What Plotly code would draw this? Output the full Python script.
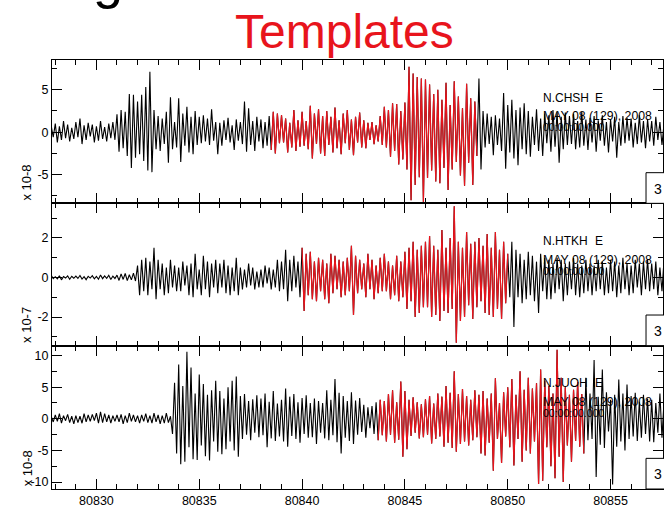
import plotly.graph_objects as go
from plotly.subplots import make_subplots

# ---------------- data ----------------
t0 = 80827.0          # start time of the traces (s)
dt = 0.1              # sample spacing (s)

# N.CHSH E  (units of 1e-8)
chsh_e = [
    0.6,-0.8,0.9,-0.5,1.1,-0.9,0.4,-1.0,0.8,-0.6,
    1.0,-1.2,0.7,-0.9,1.3,-0.7,0.9,-1.1,0.5,-0.8,
    1.2,-0.6,1.6,-1.4,0.8,-0.9,1.1,-0.5,0.9,-1.2,
    0.7,-1.0,1.3,-0.8,0.6,-1.1,1.0,-0.7,1.2,-0.9,
    2.1,-2.3,2.6,-1.9,2.4,-2.8,4.5,-4.2,4.4,-3.0,
    3.6,-2.6,4.4,-3.4,5.3,-4.5,7.1,-4.7,2.6,-2.0,
    1.9,-2.2,1.6,-1.4,2.4,-3.6,4.1,-2.0,1.2,-1.8,
    4.0,-3.5,2.2,-1.6,3.0,-2.4,1.8,-2.6,2.5,-1.5,
    1.8,-1.3,2.0,-1.1,1.6,-1.5,2.7,-1.0,1.2,-2.6,
    1.1,-1.6,1.4,-0.9,1.7,-1.2,0.8,-2.1,1.5,-1.0,
    1.2,-1.4,3.6,-2.3,2.8,-1.5,1.3,-2.2,1.8,-1.1,
    1.5,-1.9,1.2,-1.6,1.9,-2.1,2.4,-2.5,2.2,-1.3,
    2.0,-1.2,1.6,-2.4,1.1,-1.8,2.6,-2.2,1.4,-1.7,
    2.4,-1.6,1.3,-2.0,3.1,-3.1,2.2,-1.4,2.7,-2.5,
    1.9,-2.8,2.5,-1.5,1.8,-2.4,2.9,-1.9,1.4,-2.6,
    2.2,-1.3,2.6,-2.1,1.5,-2.7,1.8,-1.2,2.3,-1.8,
    1.4,-1.9,1.1,-0.9,1.2,-1.4,0.8,-1.1,1.9,-1.5,
    3.0,-1.8,2.6,-2.9,3.4,-2.2,3.3,-3.8,2.5,-3.2,
    3.5,-4.4,7.7,-8.0,6.9,-6.2,6.5,-5.3,6.3,-8.2,
    6.2,-5.4,5.6,-4.5,4.5,-5.8,5.0,-6.0,3.8,-4.2,
    5.8,-6.8,3.2,-4.4,6.0,-3.5,4.2,-5.1,2.8,-6.3,
    5.7,-3.6,4.0,-6.2,3.6,-2.8,6.3,-4.4,2.5,-1.8,
    2.2,-1.4,1.8,-2.7,2.0,-1.5,1.6,-2.2,4.6,-4.3,
    3.2,-2.4,3.8,-3.1,2.6,-3.9,2.9,-2.0,3.4,-2.6,
    2.5,-2.9,1.8,-1.5,2.7,-2.2,1.6,-2.8,2.2,-1.3,
    2.0,-2.3,2.6,-1.7,2.4,-3.6,1.8,-2.0,2.3,-1.5,
    1.9,-1.4,2.2,-2.0,1.3,-1.8,2.4,-1.6,1.5,-2.1,
    1.7,-1.2,1.9,-2.3,1.4,-1.0,2.0,-1.6,1.2,-2.4,
    1.5,-1.1,1.8,-3.0,1.2,-1.6,1.9,-1.3,1.7,-1.0,
    1.6,-1.8,1.1,-1.4,2.0,-1.2,1.3,-1.9,1.5,-1.1,
    1.3,-1.6,1.8,-0.9,1.2,-1.5,1.0,-1.3,1.4,-1.0,
]

# N.HTKH E  (units of 1e-7)
htkh_e = [
    0.05,-0.08,0.10,-0.04,0.06,-0.10,0.08,-0.05,0.12,-0.06,
    0.04,-0.07,0.09,-0.12,0.05,-0.03,0.08,-0.09,0.06,-0.04,
    0.07,-0.05,0.10,-0.08,0.04,-0.11,0.06,-0.03,0.09,-0.07,
    0.05,-0.09,0.12,-0.06,0.08,-0.04,0.11,-0.10,0.07,-0.05,
    0.12,-0.15,0.18,-0.10,0.20,-0.16,0.14,-0.12,0.22,-0.18,
    0.6,-0.9,0.9,-0.7,1.0,-0.9,0.8,-0.6,1.5,-1.1,
    0.9,-0.6,0.7,-0.9,0.5,-0.8,0.9,-0.5,0.6,-0.7,
    0.5,-0.7,0.8,-0.4,0.6,-0.9,0.7,-1.0,1.2,-0.6,
    0.4,-0.9,1.1,-0.6,0.8,-1.0,0.7,-0.5,0.9,-0.8,
    0.7,-0.5,0.9,-0.8,0.6,-0.9,0.5,-0.7,1.0,-0.9,
    0.5,-0.6,0.4,-0.5,0.7,-0.4,0.5,-0.6,0.3,-0.5,
    0.4,-0.5,0.6,-0.3,0.5,-0.6,0.4,-0.5,0.9,-0.7,
    0.8,-0.6,1.4,-1.2,0.9,-0.7,1.1,-0.5,0.8,-1.0,
    1.5,-1.7,1.2,-0.9,1.3,-1.1,0.8,-1.2,1.0,-0.7,
    0.9,-1.1,0.7,-1.3,1.2,-0.8,1.1,-0.6,0.9,-1.0,
    0.8,-0.9,1.0,-0.7,1.6,-1.9,1.1,-0.8,0.9,-0.6,
    0.7,-1.0,1.2,-0.6,0.9,-1.1,0.6,-0.8,1.0,-0.7,
    1.2,-0.7,0.8,-1.1,0.6,-0.9,1.1,-1.2,0.8,-1.0,
    1.3,-1.6,1.5,-1.2,1.8,-2.0,1.4,-1.8,1.6,-1.5,
    1.8,-1.5,2.1,-2.0,1.6,-1.9,1.4,-2.2,2.4,-1.7,
    1.5,-1.8,2.0,-1.6,3.6,-3.3,1.8,-2.2,1.5,-2.0,
    2.3,-1.4,1.7,-2.1,1.8,-1.5,2.0,-1.2,1.6,-1.8,
    2.2,-1.9,1.5,-2.0,2.3,-1.6,1.4,-2.1,1.8,-1.3,
    1.2,-1.0,1.8,-2.5,1.4,-1.0,1.2,-1.3,0.9,-1.1,
    1.3,-0.9,1.1,-1.2,0.8,-1.8,1.2,-0.7,1.0,-1.1,
    0.9,-1.1,0.7,-0.8,1.0,-0.6,0.9,-1.2,0.7,-0.9,
    0.8,-0.6,1.0,-0.9,0.7,-1.0,0.6,-0.8,0.9,-0.7,
    0.7,-0.9,0.6,-0.7,0.9,-0.6,0.8,-0.9,0.5,-0.8,
    0.9,-0.7,0.8,-1.0,0.6,-0.8,1.0,-0.6,0.7,-0.9,
    0.6,-0.8,0.9,-0.5,0.7,-0.9,0.8,-0.6,0.9,-0.7,
    0.7,-0.6,0.8,-0.9,0.5,-0.7,0.9,-0.8,0.6,-0.5,
]

# N.JUOH E  (units of 1e-8)
juoh_e = [
    0.3,-0.5,0.6,-0.4,0.7,-0.3,0.5,-0.6,0.4,-0.5,
    0.6,-0.4,0.8,-0.7,0.5,-0.3,0.7,-0.6,0.4,-0.8,
    0.5,-0.6,0.4,-0.7,0.8,-0.5,0.6,-0.4,0.7,-0.3,
    0.9,-0.7,1.1,-0.6,0.8,-0.5,0.6,-0.7,0.5,-0.4,
    0.6,-0.5,0.7,-0.8,0.5,-0.6,0.9,-0.4,0.6,-0.5,
    0.5,-0.7,0.6,-0.4,0.8,-0.6,0.5,-0.7,0.9,-0.5,
    0.6,-0.8,0.5,-0.7,0.9,-0.6,0.4,-2.4,5.7,-5.5,
    8.6,-7.2,5.2,-6.8,10.6,-4.5,8.1,-6.4,4.0,-6.5,
    7.0,-4.2,5.5,-5.9,3.8,-6.6,4.5,-3.6,6.0,-5.2,
    4.4,-5.6,3.2,-4.8,5.0,-3.6,6.0,-5.0,6.7,-6.0,
    3.6,-3.2,3.9,-2.5,2.8,-3.4,3.1,-2.2,3.7,-2.9,
    3.2,-2.6,4.0,-4.5,2.7,-3.1,4.4,-3.5,2.4,-2.8,
    3.0,-3.6,4.8,-4.4,3.5,-2.7,3.9,-3.2,2.6,-3.8,
    3.3,-2.4,3.7,-3.0,2.5,-2.9,3.2,-4.0,2.8,-2.2,
    2.5,-3.1,4.5,-3.4,3.0,-2.6,6.3,-3.7,4.1,-5.5,
    3.6,-3.0,2.8,-3.5,4.2,-4.0,2.9,-2.5,3.3,-2.1,
    2.2,-3.0,1.8,-1.5,2.0,-2.4,2.6,-3.4,3.0,-2.6,
    2.8,-3.6,3.9,-2.5,4.5,-3.8,2.6,-3.3,5.9,-6.0,
    4.4,-4.8,3.0,-2.7,3.4,-2.2,2.6,-3.1,2.3,-2.9,
    3.1,-2.5,3.6,-3.9,2.4,-3.2,4.0,-2.8,3.5,-4.4,
    5.2,-3.8,4.1,-4.6,7.5,-5.2,3.9,-4.0,4.7,-3.6,
    3.6,-4.2,3.0,-3.4,4.5,-2.9,3.8,-5.5,4.4,-5.8,
    3.2,-3.8,4.0,-8.2,6.4,-3.2,2.5,-7.0,4.2,-2.8,
    5.0,-4.5,6.3,-7.4,3.8,-3.2,7.5,-6.8,4.6,-5.0,
    6.5,-5.5,4.8,-3.6,5.6,-10.3,7.8,-9.8,6.0,-4.5,
    5.2,-7.5,4.0,-9.4,10.9,-6.0,6.5,-10.0,5.0,-4.2,
    3.8,-6.8,4.6,-3.5,5.8,-4.4,3.9,-5.5,6.5,-3.4,
    4.0,-3.2,9.3,-9.2,3.5,-4.1,7.8,-4.6,4.2,-2.0,
    3.0,-10.4,3.8,-4.4,6.2,-3.6,4.0,-5.0,5.4,-3.2,
    3.6,-2.8,4.1,-3.5,2.7,-3.0,3.8,-2.4,3.2,-3.6,
    3.0,-3.7,2.5,-2.2,4.0,-3.0,2.8,-2.6,3.3,-2.1,
]

traces = [chsh_e, htkh_e, juoh_e]
stations = ["N.CHSH", "N.HTKH", "N.JUOH"]
components = ["E", "E", "E"]
scale_labels = ["x 10-8", "x 10-7", "x 10-8"]
template_start = [80838.5, 80840.0, 80843.7]   # start of red template window (s)
template_len = 10.0                            # template length (s)
date_label = "MAY 08 (129), 2008"
time_label = "00:00:00.000"
panel_tag = "3"
title_text = "Templates"
x_ticks = [80830, 80835, 80840, 80845, 80850, 80855]

# ---------------- styling / layout ----------------
W, H = 664, 508
ML, MR, MT, MB = 52, 0, 60, 14
PW, PH = W - ML - MR, H - MT - MB
panel_px = [(60, 205), (205, 349), (349, 494)]   # top/bottom pixel of each panel
y_ranges = [[-8.37, 8.49], [-3.45, 3.75], [-11.1, 11.56]]
y_major = [[-5, 0, 5], [-2, 0, 2], [-10, -5, 0, 5, 10]]
y_minor = [[-7.5, -2.5, 2.5, 7.5], [-3, -1, 1, 3], [-7.5, -2.5, 2.5, 7.5]]
x_range = [80827.84, 80857.55]
FONT = "Liberation Sans, Arial, sans-serif"
RED = "#e8141c"


def py(ypix):
    return 1 - (ypix - MT) / PH


def px(xpix):
    return (xpix - ML) / PW


fig = make_subplots(rows=3, cols=1, shared_xaxes=True, vertical_spacing=0)

for k, vals in enumerate(traces):
    n = len(vals)
    t = [t0 + i * dt for i in range(n)]
    i0 = int(round((template_start[k] - t0) / dt))
    i1 = int(round((template_start[k] + template_len - t0) / dt))
    fig.add_trace(go.Scatter(x=t, y=vals, mode="lines",
                             line=dict(color="black", width=1.1),
                             hoverinfo="skip", showlegend=False),
                  row=k + 1, col=1)
    fig.add_trace(go.Scatter(x=t[i0:i1 + 1], y=vals[i0:i1 + 1], mode="lines",
                             line=dict(color=RED, width=1.2),
                             hoverinfo="skip", showlegend=False),
                  row=k + 1, col=1)

for k in range(3):
    top, bot = panel_px[k]
    yname = "yaxis" if k == 0 else f"yaxis{k+1}"
    xname = "xaxis" if k == 0 else f"xaxis{k+1}"
    fig.layout[yname].update(
        domain=[py(bot), py(top)], range=y_ranges[k], showgrid=False, zeroline=False,
        showline=True, linecolor="black", linewidth=1, mirror="ticks",
        ticks="inside", ticklen=10, tickwidth=1, tickcolor="black",
        tickvals=y_major[k], ticktext=[str(v) for v in y_major[k]],
        tickfont=dict(family=FONT, size=12.5, color="black"),
        minor=dict(tickvals=y_minor[k], ticks="inside", ticklen=5, tickcolor="black", tickwidth=1),
        fixedrange=True,
    )
    fig.layout[xname].update(
        range=x_range, showgrid=False, zeroline=False,
        showline=True, linecolor="black", linewidth=1, mirror="ticks",
        ticks="inside", ticklen=10, tickwidth=1, tickcolor="black",
        tickvals=x_ticks, ticktext=[str(v) for v in x_ticks],
        showticklabels=(k == 2),
        tickfont=dict(family=FONT, size=12.5, color="black"),
        minor=dict(dtick=1, tick0=80830, ticks="inside", ticklen=5, tickcolor="black", tickwidth=1),
        fixedrange=True,
    )

annotations = []
shapes = []
for k in range(3):
    top, bot = panel_px[k]
    annotations.append(dict(text=stations[k], x=px(542), y=py(top + 38), xref="paper", yref="paper",
                            xanchor="left", yanchor="middle", showarrow=False,
                            font=dict(family=FONT, size=12, color="black")))
    annotations.append(dict(text=components[k], x=px(594), y=py(top + 38), xref="paper", yref="paper",
                            xanchor="left", yanchor="middle", showarrow=False,
                            font=dict(family=FONT, size=12, color="black")))
    annotations.append(dict(text=date_label, x=px(542), y=py(top + 57), xref="paper", yref="paper",
                            xanchor="left", yanchor="middle", showarrow=False,
                            font=dict(family=FONT, size=12.3, color="black")))
    annotations.append(dict(text=time_label, x=px(542), y=py(top + 68), xref="paper", yref="paper",
                            xanchor="left", yanchor="middle", showarrow=False,
                            font=dict(family=FONT, size=10.5, color="black")))
    annotations.append(dict(text=scale_labels[k], x=px(27), y=py(bot - 21), xref="paper", yref="paper",
                            xanchor="center", yanchor="middle", textangle=-90, showarrow=False,
                            font=dict(family=FONT, size=13, color="black")))
    # the small boxed panel tag at the right edge
    shapes.append(dict(type="rect", xref="paper", yref="paper",
                       x0=px(647), x1=px(690), y0=py(bot), y1=py(bot - 31),
                       line=dict(color="black", width=1), fillcolor="white"))
    annotations.append(dict(text=panel_tag, x=px(653), y=py(bot - 15), xref="paper", yref="paper",
                            xanchor="left", yanchor="middle", showarrow=False,
                            font=dict(family=FONT, size=14, color="black")))

annotations.append(dict(text=title_text, x=px(345), y=py(31), xref="paper", yref="paper",
                        xanchor="center", yanchor="middle", showarrow=False,
                        font=dict(family="Liberation Sans, Arial, sans-serif", size=48, color=RED)))
annotations.append(dict(text="g", x=px(108), y=py(10), xref="paper", yref="paper",
                        xanchor="center", yanchor="bottom", showarrow=False,
                        font=dict(family="Liberation Sans, Arial, sans-serif", size=54, color="black")))

fig.update_layout(
    width=W, height=H, autosize=False,
    margin=dict(l=ML, r=MR, t=MT, b=MB, pad=0),
    paper_bgcolor="white", plot_bgcolor="white",
    annotations=annotations, shapes=shapes,
    showlegend=False,
)

fig.write_html("out.html", config={"displayModeBar": False})
